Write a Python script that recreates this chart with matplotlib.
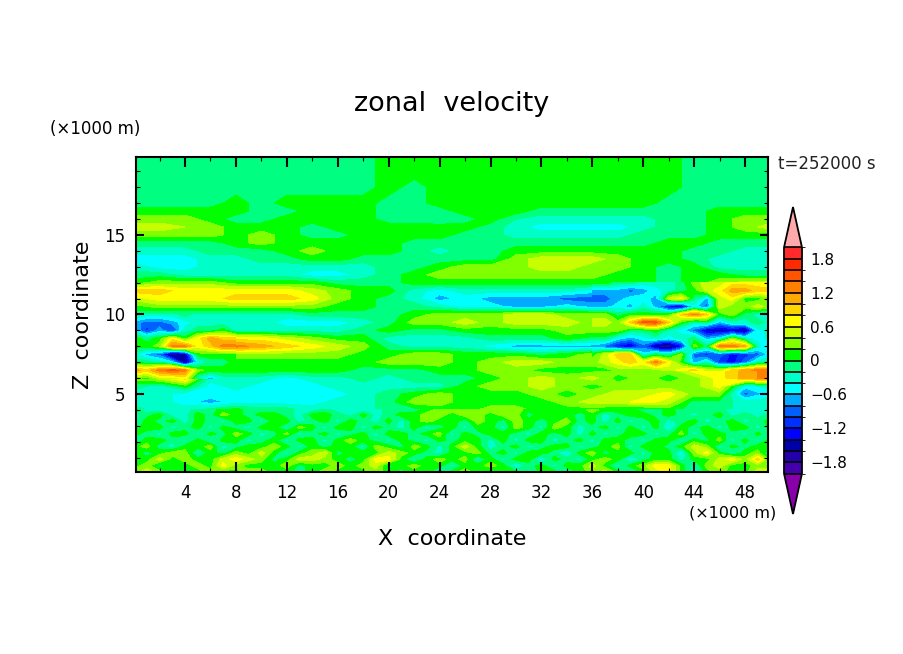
import numpy as np
import matplotlib
matplotlib.use("Agg")
import matplotlib.pyplot as plt
from matplotlib.colors import ListedColormap, BoundaryNorm

# all velocities below are in tenths of m/s, bottom row first

# main field, 2 km columns
x_km = np.arange(0, 51, 2)
z_km = [4.0, 4.5, 5.0, 5.5, 6.0, 6.5, 7.0, 7.5, 8.0, 8.5, 9.0,
        9.5, 10.0, 10.5, 11.0, 11.5, 12.0, 12.5, 13.0, 13.5, 14.0, 14.5, 15.0, 15.5, 16.0, 16.5,
        17.0, 18.0, 19.0, 19.9]
u_main = [
    [-1, -3, -3, -1, 1, -1, -1, -3, -3, -3, -1, -1, 1, 1, 3, 3, 1, 1, 1, -1, -1, 1, -1, -1, -3, -3],
    [-3, -3, -5, -7, -5, -5, -5, -5, -3, -3, -1, 3, 3, 1, 1, 1, 1, 3, 5, 5, 7, 5, -1, -1, -3, -3],
    [-3, -3, -5, -5, -5, -5, -5, -5, -5, -3, -1, 1, 3, 1, 1, 1, 3, 1, 3, 5, 5, 7, 3, 3, -9, -5],
    [-1, -3, 1, -5, -3, -5, -5, -5, -3, -3, -3, -3, -3, 1, 3, 3, 5, 3, 1, 3, 3, 3, 3, 7, -5, -3],
    [ 3, 5, 9, -3, -3, -3, -5, -3, -3, -1, -3, -1, -1, -1, 1, 3, 5, 3, 5, 1, 3, 1, 3, 7, 11, 13],
    [11, 13, 13, 1, 1, 1, 1, 1, 1, -1, -1, -1, 1, 1, 3, 3, 1, 1, 1, 3, 3, 3, 7, 7, 11, 13],
    [-1, -3, -17, -1, 1, 1, 1, 1, 1, 1, 3, 3, 3, 1, 3, 5, 5, 3, 3, 5, 7, 9, -5, -9, -9, -3],
    [-7, -11, -19, 1, 3, 3, 3, 3, 3, 1, 1, 3, 3, 1, 1, 1, -1, 1, 3, 7, -9, -5, -3, -7, -9, -5],
    [ 1, 5, 13, 11, 13, 11, 9, 7, 5, 3, -1, -3, -3, -3, -5, -7, -7, -7, -7, -13, -13, -17, 1, 15, 5, -7],
    [ 1, -1, -3, 7, 7, 7, 5, 3, 1, 1, -3, -3, -3, -3, -1, -1, -1, 1, -1, -3, -5, -3, -1, -5, -3, -5],
    [-7, -11, -9, -1, -3, -3, -3, -3, -3, -1, 1, -1, -1, 1, 1, 1, 1, 3, 3, 1, -1, -3, -7, -15, -15, -3],
    [-7, -9, -7, -3, -3, -3, -5, -5, -5, -3, -1, 3, 3, 5, 3, 5, 5, 5, 3, 5, 15, 5, -3, -5, -3, -1],
    [-1, -3, -3, -3, -3, -3, -3, -1, -1, -1, -1, 1, 3, 3, 3, 5, 5, 3, 3, 3, 5, 3, 7, 9, 3, 1],
    [ 1, 3, 3, 3, 3, 3, 3, 3, 1, 1, -1, -1, -3, -5, -5, -7, -7, -5, -7, -5, -5, -13, -9, 3, 5, 3],
    [ 5, 7, 7, 7, 9, 9, 9, 7, 3, 1, -1, -3, -7, -5, -7, -7, -7, -9, -9, -7, -5, 5, -5, 7, 3, 7],
    [ 9, 9, 7, 7, 7, 7, 7, 5, 3, 1, 1, -3, -5, -3, -3, -3, -3, -3, -5, -7, -7, -7, 3, 7, 9, 9],
    [ 1, 3, 3, 3, 1, 1, 1, 1, -1, -1, -1, 1, 1, 1, 1, 1, 1, 1, 1, 1, 1, -1, 1, 3, 5, 5],
    [-1, -1, -3, -3, -3, -3, -3, -5, -5, -3, -1, 1, 3, 3, 3, 3, 3, 3, 3, 1, 1, -1, 1, 1, -1, -1],
    [-3, -5, -5, -3, -3, -3, -3, -3, -3, -3, -1, -1, 1, 3, 3, 3, 5, 5, 3, 3, 1, -1, 1, -3, -3, -3],
    [-5, -5, -5, -3, -3, -1, -1, 1, 1, -1, -1, -1, -1, -1, -1, 3, 5, 5, 5, 3, 1, 1, -1, -3, -3, -3],
    [-3, -3, -3, -1, -1, -1, 1, 3, 1, 1, 1, -1, -3, -1, -1, 1, 1, 1, 1, 1, 1, 1, -1, -1, -3, -3],
    [-1, -1, -1, -1, 1, 3, 1, 1, 1, 1, 1, -1, -1, -1, -1, -1, -1, -1, -1, -1, -1, 1, 1, -1, -1, -1],
    [ 3, 3, 3, 3, 1, 3, 1, -1, -1, 1, 1, 1, 1, -1, -1, -3, -3, -3, -3, -3, -1, -1, -1, 1, 1, 1],
    [ 5, 5, 4, 3, 1, 1, 1, -1, 1, 1, 1, 1, 1, 1, -1, -3, -5, -5, -5, -5, -3, -1, -1, 1, 3, 5],
    [ 3, 3, 3, 1, -1, -1, 1, 1, 1, 1, -1, -1, -2, -1, 1, -2, -3, -3, -3, -3, -3, -1, -1, 1, 3, 3],
    [ 1, 1, 1, 1, 1, -1, -1, 1, 1, 1, -1, -1, -1, 1, 1, 1, -1, -1, -1, -1, -1, -1, -1, 1, 1, 1],
    [-1, -1, -1, -1, 1, -1, 1, 1, 1, 1, -1, -1, 1, 1, 1, 1, 1, 1, 1, 1, 1, -1, -1, -1, -1, -1],
    [-1, -1, -1, -1, -1, -1, -1, -1, -1, -1, 1, -1, 1, 1, 1, 1, 1, 1, 1, 1, 1, 1, -1, -1, -1, -1],
    [-1, -1, -1, -1, -1, -1, -1, -1, -1, -1, 1, 1, 1, 1, 1, 1, 1, 1, 1, 1, 1, 1, -1, -1, -1, -1],
    [-1, -1, -1, -1, -1, -1, -1, -1, -1, -1, 1, 1, 1, 1, 1, 1, 1, 1, 1, 1, 1, 1, -1, -1, -1, -1],
]

# choppy layer near the ground, 1 km columns
x_low = np.arange(0, 51, 1)
z_low = [0.1, 0.5, 0.9, 1.3, 1.7, 2.1, 2.5, 2.9, 3.3, 3.7, 4.0]
u_low = [
    [3, 5, 3, 1, -1, 1, 3, 1, 1, 3, 3, 1, 1, -1, 1, 3, 1, 1, 1, 3, 1, -1, 1, 1, -3, 1, 3, 1, -1, 1,
     1, -3, 1, 1, -3, 1, 3, 5, 1, -3, 1, 5, 7, 1, -3, 1, 3, 1, 1, 5, 5],
    [1, 3, -1, 1, 1, 3, 1, 7, 3, 1, 1, 1, 3, -1, 1, 1, 3, 1, 3, 5, -1, 1, 3, 1, 1, -3, 1, 1, 3, 1,
     -5, -1, 1, -3, 1, 1, 5, 1, -3, 1, 3, 7, 7, 1, -3, 3, 5, 1, 1, 3, 3],
    [-1, 1, 5, 1, 3, 1, 1, 5, 7, 5, 3, -1, 1, 5, 5, 3, 1, -1, 1, 7, 7, 1, -3, 1, 3, 1, 3, -3, 1, -3,
     1, 1, -5, 1, -1, -3, 1, 3, 1, -5, -1, 1, 1, -3, 1, 1, 5, 7, 3, 9, 1],
    [1, -1, 1, 3, 3, -3, 1, -1, 3, 1, 5, 1, -3, 1, 3, 5, -1, 1, 1, 1, 5, 3, 1, -1, -3, 1, 1, 3, -1, 1,
     -3, 1, 1, -1, -5, 1, 3, -1, 1, 1, -3, 1, 1, -5, 3, 7, 1, -3, 1, 3, -3],
    [1, 3, -1, -3, 1, 1, 3, -3, -1, 1, 1, 3, 1, -3, 1, -1, 1, 1, -3, 3, 1, -1, 3, 1, -3, 1, 5, 1, -3, -1,
     1, -3, -1, 1, 1, -3, -1, 1, 3, -3, 1, 1, -1, 1, 5, 3, -3, 1, -1, 1, 1],
    [-3, 1, 1, -1, -3, 1, -3, 1, 1, -3, -1, 1, -3, 1, 1, -3, 1, 3, 1, -1, -3, 1, -1, -3, 1, -1, 1, 1, -3, 1,
     -3, 1, 1, -3, -1, 1, -3, 1, 1, -1, -3, 1, 1, -3, 1, -1, 3, -3, 1, -3, 1],
    [1, -1, -3, 1, 1, -3, 1, -1, 3, 1, -3, -1, 3, -3, -1, 1, -3, -1, 1, -3, 1, 1, -1, 1, 3, -3, 1, -1, 1, 1,
     -1, -3, 1, -1, 1, -3, 1, -3, -1, 1, 1, -3, -1, 3, -3, 1, 1, -1, -3, 1, -3],
    [-1, 1, 1, -3, -1, 1, -3, 1, -1, -3, 1, 1, -3, 3, 1, -3, 1, 1, -3, 1, -1, -3, 1, -3, -1, 1, -3, 1, 1, -3,
     3, 1, -3, 3, 1, -3, -1, 1, -3, 1, -3, 1, -5, 1, -1, 1, -3, 1, 1, -3, 1],
    [-3, 1, -1, 1, -3, 1, -1, -3, 1, 1, -3, 1, 1, -3, -1, 1, -3, 1, -1, -3, 1, -3, 1, 3, 1, 1, -1, 3, 1, -1,
     3, 1, -1, 1, 3, -1, 1, -3, 1, -3, -1, 1, -3, -1, 1, -3, -1, 1, -3, -1, 1],
    [-3, -1, 1, -3, -3, 1, -1, 3, 1, -1, 1, 1, -1, -3, 1, 1, -1, -3, 1, -3, -1, 1, 1, 3, 3, 1, 3, 3, 1, 3,
     3, -1, 1, 1, 1, -1, 1, -3, -1, 1, 1, -1, 1, -1, -3, -1, 1, -3, -1, -3, -1],
    [-1, -3, -3, -3, -3, -1, -1, 1, 1, -1, -1, -1, -1, -3, -3, -1, -3, -3, -3, -3, -1, -1, -1, 1, 3, 3, 3, 3, 3, 3,
     3, 1, 1, 1, 1, 1, 3, 1, 1, 1, -1, -1, 1, -1, -1, -1, -1, -3, -3, -3, -3],
]

# turbulent patch at the left edge, 1 km columns
x_left = np.arange(0, 9, 1)
z_left = [6.0, 6.5, 7.0, 7.5, 8.0, 8.5, 9.0, 9.5, 10.0]
u_left = [
    [3, 1, 5, 5, 7, -3, -7, -3, -3],
    [11, 9, 13, 15, 13, 3, 1, 1, 1],
    [-1, -1, -3, -5, -17, -5, -1, -1, 1],
    [-3, -7, -9, -19, -15, 1, 1, 1, 1],
    [1, 1, 3, 13, 13, 7, 9, 13, 13],
    [1, -1, 1, 7, 1, 7, 11, 9, 9],
    [-5, -11, -7, -11, -3, -1, -1, 1, -3],
    [-7, -9, -9, -7, -5, -3, -3, -3, -3],
    [-1, -3, -3, -3, -1, -3, -3, -3, -3],
]

# turbulent patch at the right edge, 1 km columns
x_right = np.arange(36, 51, 1)
z_right = [6.5, 7.0, 7.5, 8.0, 8.5, 9.0, 9.5, 10.0, 10.5, 11.0, 11.5, 12.0]
u_right = [
    [1, 1, 3, 3, 3, 3, 5, 7, 9, 5, 5, 9, 11, 13, 13],
    [3, 5, 7, 9, 7, 13, 7, 1, -7, -3, -11, -13, -9, -3, -1],
    [1, 5, 9, 9, -5, -1, -3, 3, -9, -11, -9, -13, -11, -9, -5],
    [-7, -9, -13, -15, -9, -17, -19, -13, 3, -1, 13, 13, 11, -3, -7],
    [-1, -1, -5, -7, -5, -3, -5, -3, -1, -7, -5, 3, -3, -5, -3],
    [3, 3, 3, -1, -1, 1, -3, -5, -9, -15, -15, -15, -17, -5, -3],
    [5, 5, 3, 9, 15, 15, 9, 1, -3, -1, -7, -3, -3, -1, -3],
    [3, 3, -1, 1, 1, 1, 1, 9, 13, 9, 1, 3, -1, -3, -5],
    [-7, -7, -5, -7, -3, -7, -13, -15, -5, -9, 5, 3, 3, 5, 3],
    [-9, -9, -7, -5, -5, -7, 5, 7, -1, -7, 5, 7, 1, 1, 3],
    [-7, -7, -7, -9, -7, -5, -3, -1, 1, 5, 7, 11, 11, 9, 9],
    [1, 1, -1, -1, -3, -3, -3, -1, 3, 5, 5, 7, 7, 7, 5],
]

levels = np.arange(-2.0, 2.01, 0.2)
band_colors = ["#4400aa", "#2200aa", "#0000aa", "#0000ff", "#0030ff", "#0060ff", "#00aaff", "#00ffff",
               "#00ffc8", "#00ff80", "#00ff00", "#80ff00", "#c8ff00", "#ffff00", "#ffd500", "#ffaa00",
               "#ff8000", "#ff5500", "#ff2a00", "#ff2a2a"]
under_color = "#8800aa"
over_color = "#ffaaaa"
cbar_ticks = [-1.8, -1.2, -0.6, 0, 0.6, 1.2, 1.8]
cbar_labels = ["\u22121.8", "\u22121.2", "\u22120.6", "0", "0.6", "1.2", "1.8"]

W, H = 904, 654
fig = plt.figure(figsize=(W / 100, H / 100), dpi=100)
ax = fig.add_axes([136 / W, 1 - 472 / H, (768 - 136) / W, (472 - 157) / H])

cmap = ListedColormap(band_colors)
cmap.set_under(under_color)
cmap.set_over(over_color)
norm = BoundaryNorm(levels, cmap.N)


def fill(x, z, u):
    return ax.contourf(x, z, np.array(u) / 10.0, levels=levels, cmap=cmap, norm=norm,
                       extend="both", antialiased=False)


cf = fill(x_km, z_km, u_main)
fill(x_low, z_low, u_low)
fill(x_left, z_left, u_left)
fill(x_right, z_right, u_right)

ax.set_xlim(0.15, 49.8)
ax.set_ylim(0.1, 19.9)
ax.set_xticks(np.arange(4, 49, 4))
ax.set_xticks(np.arange(2, 50, 2), minor=True)
ax.set_yticks([5, 10, 15])
ax.set_yticks(np.arange(1, 20), minor=True)
ax.tick_params(which="major", direction="in", top=True, right=True, length=7, width=1.5, labelsize=12, pad=9)
ax.tick_params(which="minor", direction="in", top=True, right=True, length=3, width=0.8)
ax.tick_params(axis="y", which="major", length=6, pad=8)
for s in ax.spines.values():
    s.set_linewidth(1.5)

fig.text(452 / W, 1 - 104 / H, "zonal  velocity", fontsize=19.5, ha="center", va="center")
fig.text(452 / W, 1 - 539 / H, "X  coordinate", fontsize=16, ha="center", va="center")
fig.text(83 / W, 1 - 315 / H, "Z  coordinate", fontsize=16, rotation=90, ha="center", va="center")
fig.text(95 / W, 1 - 129 / H, "(\u00d71000 m)", fontsize=12, ha="center", va="center")
fig.text(733 / W, 1 - 513 / H, "(\u00d71000 m)", fontsize=11.5, ha="center", va="center")
fig.text(827 / W, 1 - 164 / H, "t=252000 s", fontsize=12, ha="center", va="center", color="#222222")

cax = fig.add_axes([784 / W, 1 - 514 / H, 18 / W, 307 / H])
cb = fig.colorbar(cf, cax=cax, extend="both", extendfrac=0.179, drawedges=True, spacing="uniform")
cb.set_ticks(cbar_ticks)
cb.set_ticklabels(cbar_labels)
cb.ax.tick_params(length=0, labelsize=11, pad=6)
cb.dividers.set_color("black")
cb.dividers.set_linewidth(1.2)
cb.outline.set_linewidth(1.3)

fig.savefig("out.png", dpi=100)
